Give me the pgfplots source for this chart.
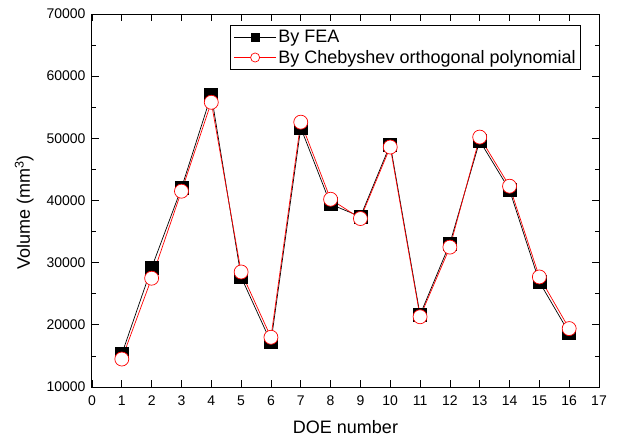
\documentclass[border=0pt]{standalone}
\usepackage{pgfplots}
\pgfplotsset{compat=1.18}
\usepackage{fontspec}
\setmainfont{Liberation Sans}
\begin{document}
\begin{tikzpicture}
\useasboundingbox (-92pt,-55pt) rectangle (525pt,387pt);
\begin{axis}[
  scale only axis,
  width=507pt, height=373pt,
  at={(0pt,0pt)}, anchor=south west,
  xmin=0, xmax=17, ymin=10000, ymax=70000,
  xtick={0,1,...,17},
  ytick={10000,20000,...,70000},
  minor y tick num=1,
  tick align=inside,
  major tick length=7pt, minor tick length=4pt,
  tick style={black, line width=0.7pt},
  axis line style={line width=1pt},
  scaled y ticks=false,
  /pgf/number format/assume math mode=true,
  /pgf/number format/set thousands separator={},
  tick label style={font=\fontsize{14}{16}\selectfont},
  xticklabel style={yshift=-5pt},
  yticklabel style={xshift=-3pt},
  xlabel={DOE number}, ylabel={Volume (mm\textsuperscript{3})},
  label style={font=\fontsize{18}{20}\selectfont},
  xlabel style={yshift=-8pt},
  ylabel style={yshift=6pt, xshift=-12pt},
  legend style={at={(0.9645,0.9705)}, anchor=north east, font=\fontsize{18}{21}\selectfont,
    draw=black, line width=0.7pt, inner xsep=3pt, inner ysep=3pt, row sep=2pt, cells={anchor=west}},
]
\addplot[black, line width=0.7pt, mark=square*, mark size=6.5pt, mark options={fill=black},
  legend image code/.code={\draw[mark repeat=2,mark phase=2,mark options={fill=black,scale=0.62}] plot coordinates {(0pt,0pt)(21pt,0pt)(42pt,0pt)};}] coordinates {
(1,15300)(2,29200)(3,42000)(4,57000)(5,27700)(6,17200)(7,51700)(8,39400)
(9,37400)(10,49000)(11,21600)(12,33100)(13,49600)(14,41700)(15,26900)(16,18700)};
\addlegendentry{By FEA}
\addplot[red, line width=0.7pt, mark=*, mark size=7pt, mark options={fill=white, draw=red},
  legend image code/.code={\draw[mark repeat=2,mark phase=2,mark options={fill=white,draw=red,scale=0.65}] plot coordinates {(0pt,0pt)(21pt,0pt)(42pt,0pt)};}] coordinates {
(1,14500)(2,27500)(3,41500)(4,55800)(5,28500)(6,18000)(7,52600)(8,40200)
(9,37100)(10,48600)(11,21300)(12,32500)(13,50200)(14,42300)(15,27700)(16,19400)};
\addlegendentry{By Chebyshev orthogonal polynomial}
\end{axis}
\end{tikzpicture}
\end{document}
